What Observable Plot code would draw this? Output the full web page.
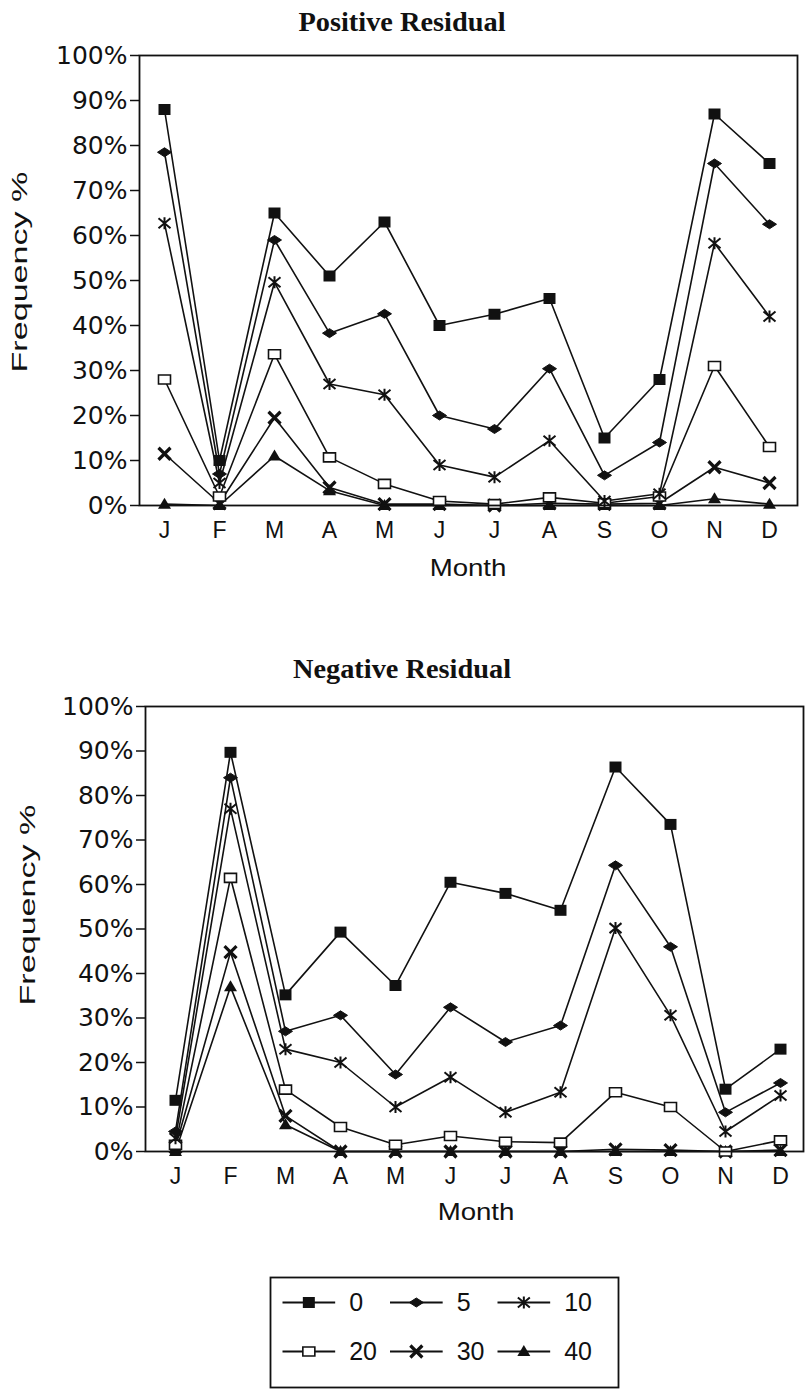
<!DOCTYPE html>
<html><head><meta charset="utf-8">
<script src="https://cdn.jsdelivr.net/npm/d3@7"></script>
<script src="https://cdn.jsdelivr.net/npm/@observablehq/plot@0.6"></script>
<style>
body{margin:0;background:#fff;}
#page{position:relative;width:807px;height:1389px;overflow:hidden;font-family:"Liberation Sans",Arial,sans-serif;color:#111;background:#fff;}
.abs{position:absolute;}
.title{font-family:"Liberation Serif","Times New Roman",serif;font-weight:bold;font-size:27px;transform:translate(-50%,-50%) scaleX(1.05);white-space:nowrap;}
.xlab{font-size:24px;transform:translate(-50%,-50%) scaleX(1.15);white-space:nowrap;}
.ylab{font-size:22px;transform:translate(-50%,-50%) rotate(-90deg) scaleX(1.55);white-space:nowrap;}
#page svg g[aria-label="y-axis tick label"]{font-family:"DejaVu Sans",sans-serif;}
</style></head><body><div id="page"></div>
<script>
// ---- data ----
const months = ["J","F","M","A","M","J","J","A","S","O","N","D"];
const seriesNames = ["0","5","10","20","30","40"];
const yTicks = [0,10,20,30,40,50,60,70,80,90,100];

// Positive residual (frequency %)
const pos0  = [88, 10, 65, 51, 63, 40, 42.5, 46, 15, 28, 87, 76];
const pos5  = [78.5, 7, 59, 38.3, 42.6, 20, 17, 30.4, 6.7, 14, 76, 62.5];
const pos10 = [62.7, 5, 49.6, 27, 24.6, 9, 6.3, 14.4, 1, 2.6, 58.3, 42];
const pos20 = [28, 2, 33.6, 10.7, 4.8, 1, 0.3, 1.8, 0.5, 2, 31, 13];
const pos30 = [11.5, 0.5, 19.5, 4, 0.3, 0.3, 0, 0.5, 0.3, 0.5, 8.5, 5];
const pos40 = [0.3, 0, 11, 3.3, 0, 0, 0, 0, 0, 0, 1.5, 0.3];

// Negative residual (frequency %)
const neg0  = [11.5, 89.7, 35.2, 49.3, 37.3, 60.5, 58, 54.2, 86.4, 73.5, 14, 23];
const neg5  = [4.5, 84, 27, 30.6, 17.3, 32.4, 24.6, 28.3, 64.3, 46, 8.8, 15.4];
const neg10 = [3, 77, 23, 20, 10, 16.7, 8.8, 13.3, 50.2, 30.6, 4.5, 12.6];
const neg20 = [1.5, 61.5, 13.9, 5.5, 1.5, 3.5, 2.2, 2, 13.3, 10, 0, 2.5];
const neg30 = [1, 44.8, 8, 0, 0, 0, 0, 0, 0.5, 0.3, 0, 0.3];
const neg40 = [0, 37, 6, 0, 0, 0, 0, 0, 0, 0, 0, 0];

// ---- symbols ----
const INK = "#111";
const symDefs = [
  {sym:{draw(c){c.rect(-6,-5.5,12,11);}}, fill:INK, stroke:"none", sw:0},
  {sym:{draw(c){c.moveTo(-7,0);c.lineTo(0,-4.5);c.lineTo(7,0);c.lineTo(0,4.5);c.closePath();}}, fill:INK, stroke:INK, sw:1},
  {sym:{draw(c){c.moveTo(-6,-5);c.lineTo(6,5);c.moveTo(-6,5);c.lineTo(6,-5);c.moveTo(0,-6);c.lineTo(0,6);}}, fill:"none", stroke:INK, sw:2},
  {sym:{draw(c){c.rect(-6,-4.5,12,9);}}, fill:"white", stroke:INK, sw:1.6},
  {sym:{draw(c){c.moveTo(-6,-6);c.lineTo(6,6);c.moveTo(-6,6);c.lineTo(6,-6);}}, fill:"none", stroke:INK, sw:3.2},
  {sym:{draw(c){c.moveTo(0,-6.5);c.lineTo(6.5,4.5);c.lineTo(-6.5,4.5);c.closePath();}}, fill:INK, stroke:"none", sw:0}
];

const page = document.getElementById("page");
function addDiv(cls, text, x, y){
  const d = document.createElement("div");
  d.className = "abs " + cls; d.textContent = text;
  d.style.left = x + "px"; d.style.top = y + "px";
  page.appendChild(d);
}

function makeChart(arrs, opt){
  const table = seriesNames.flatMap((s,k)=> arrs[k].map((v,i)=>({series:s,k,i,v})));
  const marks = [
    Plot.line(table, {x:"i", y:"v", z:"series", stroke:INK, strokeWidth:1.6}),
  ];
  for (let k = seriesNames.length-1; k >= 0; k--){
    const sd = symDefs[k];
    marks.push(Plot.dot(table.filter(d=>d.k===k), {x:"i", y:"v", symbol:sd.sym, fill:sd.fill, stroke:sd.stroke, strokeWidth:sd.sw}));
  }
  marks.push(Plot.frame({stroke:INK, strokeWidth:1.8}));
  marks.push(Plot.axisY({ticks:yTicks, tickFormat:d=>d+"%", tickSize:9, tickPadding:3, fontSize:25, stroke:INK, strokeWidth:1.5}));
  marks.push(Plot.axisX({tickFormat:i=>months[i], tickSize:0, tickPadding:16, fontSize:23}));
  const svg = Plot.plot({
    width:807, height:opt.height,
    marginLeft:opt.ml, marginRight:opt.mr, marginTop:opt.mt, marginBottom:opt.mb,
    x:{type:"point", domain:d3.range(12), padding:opt.pad, align:opt.align, label:null},
    y:{domain:[0,100], label:null},
    style:{fontFamily:"'Liberation Sans', Arial, sans-serif", color:INK, background:"transparent", overflow:"visible"},
    marks
  });
  svg.style.position = "absolute";
  svg.style.left = "0px"; svg.style.top = opt.top + "px";
  page.appendChild(svg);
}

// Top chart: frame 139..797 x, 55..505 y
addDiv("title", "Positive Residual", 402, 22);
makeChart([pos0,pos5,pos10,pos20,pos30,pos40], {top:0, height:590, ml:139, mr:10, mt:55, mb:85, pad:0.43, align:0.47});
addDiv("xlab", "Month", 468, 568);
addDiv("ylab", "Frequency %", 20, 272);

// Bottom chart: frame 145..803 x, 706..1151 y
addDiv("title", "Negative Residual", 402, 669);
makeChart([neg0,neg5,neg10,neg20,neg30,neg40], {top:620, height:620, ml:145, mr:4, mt:86, mb:89, pad:0.44, align:0.57});
addDiv("xlab", "Month", 476, 1212);
addDiv("ylab", "Frequency %", 28, 905);

// Legend
const legendData = seriesNames.map((s,k)=>({s, k, col:k%3, row:Math.floor(k/3)}));
const legMarks = [
  Plot.frame({stroke:INK, strokeWidth:1.8}),
  Plot.link(legendData, {x1:"col", x2:d=>d.col+0.49, y1:"row", y2:"row", stroke:INK, strokeWidth:1.8}),
];
legendData.forEach(d=>{
  const sd = symDefs[d.k];
  legMarks.push(Plot.dot([d], {x:e=>e.col+0.245, y:"row", symbol:sd.sym, fill:sd.fill, stroke:sd.stroke, strokeWidth:sd.sw}));
});
legMarks.push(Plot.text(legendData, {x:d=>d.col+0.62, y:"row", text:"s", textAnchor:"start", fontSize:25, fill:INK}));
const leg = Plot.plot({
  width:348, height:110, margin:0,
  x:{domain:[0,3], range:[12, 334.5], axis:null},
  y:{domain:[0,1], range:[25,74], axis:null},
  style:{fontFamily:"'Liberation Sans', Arial, sans-serif", color:INK, background:"white", overflow:"visible"},
  marks: legMarks
});
leg.style.position = "absolute"; leg.style.left = "270px"; leg.style.top = "1277px";
page.appendChild(leg);
</script>
</body></html>
